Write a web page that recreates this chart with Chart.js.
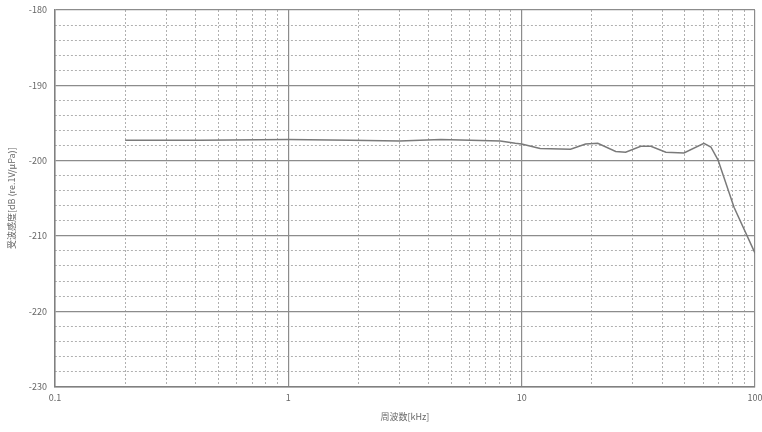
<!DOCTYPE html>
<html>
<head>
<meta charset="utf-8">
<script src="https://cdn.jsdelivr.net/npm/chart.js@4"></script>
<style>
  body { margin: 0; background: #fff; }
  #wrap { width: 762px; height: 432px; }
</style>
</head>
<body>
<div id="wrap"><canvas id="chSens"></canvas></div>
<script>
// sensitivity curve
var freqs = [0.2, 0.42, 1, 1.85, 3.0, 4.5, 8.1, 9.4, 10, 12, 16.2, 18.8, 21.2, 25.3, 27.9, 32.4, 35.8, 41.5, 49.6, 60.4, 64.7, 69.4, 81.3, 100];
var sens  = [-197.3, -197.3, -197.2, -197.3, -197.4, -197.2, -197.4, -197.7, -197.8, -198.4, -198.5, -197.8, -197.7, -198.8, -198.9, -198.1, -198.1, -198.9, -199.0, -197.7, -198.2, -199.9, -206.2, -212.3];

// axes
var xDecades = [0.1, 1, 10, 100];
var xMinors = [];
[0.1, 1, 10].forEach(function (d) {
  for (var k = 2; k <= 9; k++) xMinors.push(+(d * k).toFixed(2));
});
var yMajors = [-230, -220, -210, -200, -190, -180];
var yMinors = [];
for (var v = -228; v < -180; v += 2) { if (v % 10 !== 0) yMinors.push(v); }

var txt = '#666';
var majorGrid = '#8c8c8c';
var minorGrid = '#b0b0b0';
var font = { family: 'Noto Sans CJK JP', size: 9 };

function setTicks(list) {
  return function (scale) { scale.ticks = list.map(function (t) { return { value: t }; }); };
}
function noPad(s) {
  s.paddingLeft = s.paddingRight = s.paddingTop = s.paddingBottom = 0;
}

var ctx = document.getElementById('chSens');
new Chart(ctx, {
  type: 'line',
  data: {
    datasets: [{
      data: freqs.map(function (f, i) { return { x: f, y: sens[i] }; }),
      borderColor: '#7a7a7a',
      borderWidth: 1.5,
      pointRadius: 0,
      tension: 0,
      xAxisID: 'x',
      yAxisID: 'y'
    }]
  },
  options: {
    responsive: true,
    maintainAspectRatio: false,
    animation: false,
    layout: { padding: { top: 0, right: 0, left: 2, bottom: 6 } },
    plugins: { legend: { display: false }, tooltip: { enabled: false } },
    scales: {
      xm: {
        type: 'logarithmic', position: 'top', min: 0.1, max: 100,
        afterBuildTicks: setTicks(xMinors),
        afterFit: function (s) { s.height = 0; noPad(s); },
        ticks: { display: false },
        border: { display: false, dash: [2, 2] },
        grid: { color: minorGrid, lineWidth: 1, drawTicks: false }
      },
      ym: {
        type: 'linear', position: 'right', min: -230, max: -180,
        afterBuildTicks: setTicks(yMinors),
        afterFit: function (s) { s.width = 0; noPad(s); },
        ticks: { display: false },
        border: { display: false, dash: [2, 2] },
        grid: { color: minorGrid, lineWidth: 1, drawTicks: false }
      },
      x: {
        type: 'logarithmic', position: 'bottom', min: 0.1, max: 100,
        afterBuildTicks: setTicks(xDecades),
        afterFit: function (s) { s.paddingRight = 7; },
        ticks: {
          color: txt, font: font, maxRotation: 0, autoSkip: false, padding: 6,
          callback: function (val) { return String(val); }
        },
        border: { color: '#808080', width: 1.5 },
        grid: { color: majorGrid, lineWidth: 1.2, drawTicks: false },
        title: { display: true, text: '周波数[kHz]', color: txt, font: font, padding: { top: 2 } }
      },
      y: {
        type: 'linear', position: 'left', min: -230, max: -180,
        afterBuildTicks: setTicks(yMajors),
        afterFit: function (s) { s.paddingTop = 10; },
        ticks: { color: txt, font: font, padding: 8 },
        border: { color: '#808080', width: 1.5 },
        grid: { color: majorGrid, lineWidth: 1.2, drawTicks: false },
        title: { display: true, text: '受波感度[dB (re.1V/μPa)]', color: txt, font: font, padding: { bottom: 4 } }
      }
    }
  }
});
</script>
</body>
</html>
